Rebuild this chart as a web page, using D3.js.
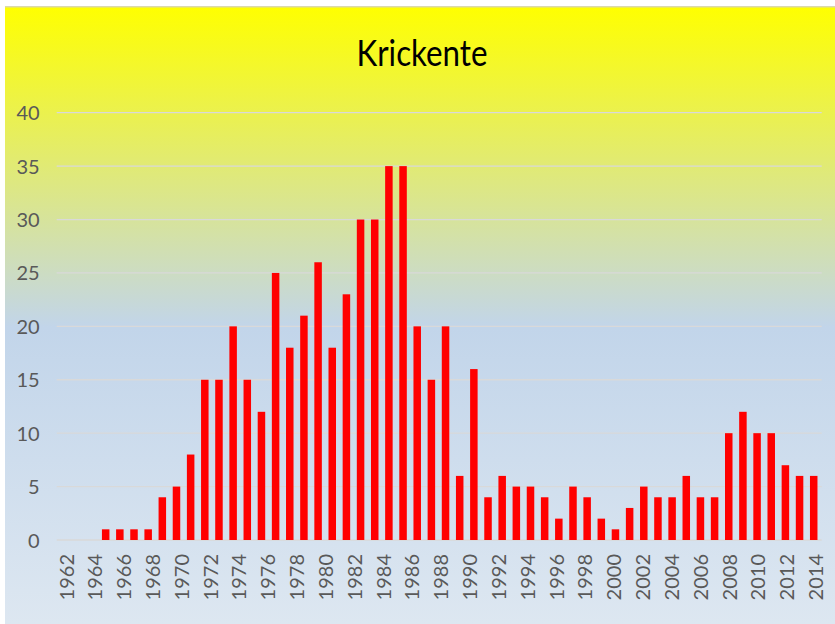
<!DOCTYPE html>
<html lang="de">
<head>
    <meta charset="UTF-8">
    <title>Krickente</title>
    <script src="https://d3js.org/d3.v7.min.js"></script>
    <style>
        body {
            margin: 0;
            background: #ffffff;
        }
        svg {
            display: block;
        }
        .axis text {
            font-family: 'Lato', sans-serif;
            font-size: 20px;
            fill: #595959;
        }
        .title {
            font-family: 'Lato', sans-serif;
            font-size: 37px;
            fill: #000000;
        }
        .grid line {
            stroke: #d9d9d9;
            stroke-width: 1.3;
        }
    </style>
</head>
<body>
    <svg id="chart"></svg>

    <script>
        // Zaehljahre der Balken und Anzahl Krickenten
        const years = [
            1964, 1965, 1966, 1967, 1968, 1969, 1970, 1971, 1972, 1973,
            1974, 1975, 1976, 1977, 1978, 1979, 1980, 1981, 1982, 1983,
            1984, 1985, 1986, 1987, 1988, 1989, 1990, 1991, 1992, 1993,
            1994, 1995, 1996, 1997, 1998, 1999, 2000, 2001, 2002, 2003,
            2004, 2005, 2006, 2007, 2008, 2009, 2010, 2011, 2012, 2013,
            2014
        ];
        const counts = [
            1, 1, 1, 1, 4, 5, 8, 15, 15, 20,
            15, 12, 25, 18, 21, 26, 18, 23, 30, 30,
            35, 35, 20, 15, 20, 6, 16, 4, 6, 5,
            5, 4, 2, 5, 4, 2, 1, 3, 5, 4,
            4, 6, 4, 4, 10, 12, 10, 10, 7, 6,
            6
        ];

        // Beschriftung der Kategorienachse
        const yearLabels = [
            "1962", "1964", "1966", "1968", "1970", "1972", "1974", "1976", "1978",
            "1980", "1982", "1984", "1986", "1988", "1990", "1992", "1994", "1996",
            "1998", "2000", "2002", "2004", "2006", "2008", "2010", "2012", "2014"
        ];
        const yTicks = [0, 5, 10, 15, 20, 25, 30, 35, 40];

        const W = 835, H = 624;
        const plot = { left: 56.7, right: 821.7, top: 112.7, bottom: 540 };

        const svg = d3.select("#chart")
            .attr("width", W)
            .attr("height", H);

        // Hintergrundverlauf gelb -> hellblau
        const defs = svg.append("defs");
        const grad = defs.append("linearGradient")
            .attr("id", "bg")
            .attr("x1", 0).attr("y1", 0)
            .attr("x2", 0).attr("y2", 1);
        grad.append("stop").attr("offset", "0%").attr("stop-color", "#ffff00");
        grad.append("stop").attr("offset", "52%").attr("stop-color", "#c2d5ea");
        grad.append("stop").attr("offset", "100%").attr("stop-color", "#dde7f1");

        svg.append("rect")
            .attr("x", 5)
            .attr("y", 6)
            .attr("width", W - 5)
            .attr("height", H - 6)
            .attr("fill", "url(#bg)");

        svg.append("line")
            .attr("x1", 5).attr("x2", W)
            .attr("y1", 6.7).attr("y2", 6.7)
            .attr("stroke", "#dcd9a8")
            .attr("stroke-width", 1.5);

        // Skalen
        const x = d3.scaleBand()
            .domain(years)
            .range([98.6, 820.8])
            .paddingInner(0.47)
            .paddingOuter(0.235);

        const xLabel = d3.scalePoint()
            .domain(yearLabels)
            .range([66, 815.5]);

        const y = d3.scaleLinear()
            .domain([0, 40])
            .range([plot.bottom, plot.top]);

        // Gitternetzlinien
        svg.append("g")
            .attr("class", "grid")
            .selectAll("line")
            .data(yTicks)
            .join("line")
            .attr("x1", plot.left)
            .attr("x2", plot.right)
            .attr("y1", d => y(d))
            .attr("y2", d => y(d));

        // Y-Achse
        const yAxis = svg.append("g")
            .attr("class", "axis")
            .attr("transform", `translate(${plot.left},0)`)
            .call(d3.axisLeft(y).tickValues(yTicks).tickSize(0).tickPadding(17));
        yAxis.select(".domain").remove();
        yAxis.selectAll("text").attr("dy", "0.35em");

        // Balken
        svg.append("g")
            .selectAll("rect")
            .data(counts)
            .join("rect")
            .attr("x", (d, i) => x(years[i]))
            .attr("y", d => y(d))
            .attr("width", x.bandwidth())
            .attr("height", d => y(0) - y(d))
            .attr("fill", "#ff0000");

        // X-Achse, Beschriftung senkrecht
        const xAxis = svg.append("g")
            .attr("class", "axis")
            .attr("transform", `translate(0,${plot.bottom})`)
            .call(d3.axisBottom(xLabel).tickSize(0));
        xAxis.select(".domain").remove();
        xAxis.selectAll("text")
            .attr("transform", "rotate(-90)")
            .attr("x", -14)
            .attr("y", 0)
            .attr("dy", "0.35em")
            .style("text-anchor", "end");

        // Titel
        svg.append("text")
            .attr("class", "title")
            .attr("x", 422)
            .attr("y", 66)
            .attr("text-anchor", "middle")
            .attr("textLength", 131)
            .attr("lengthAdjust", "spacingAndGlyphs")
            .text("Krickente");
    </script>
</body>
</html>
